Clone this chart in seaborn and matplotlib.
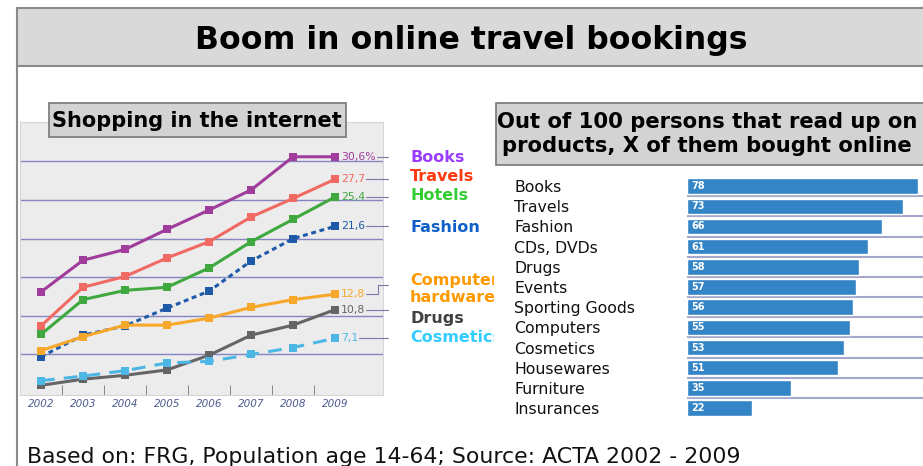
import numpy as np
import pandas as pd
import matplotlib
matplotlib.use("Agg")
import matplotlib.pyplot as plt
import seaborn as sns
from matplotlib.patches import Rectangle
from matplotlib.lines import Line2D
from matplotlib.transforms import Bbox

# Data: online shopping share (%) per year
years = [2002, 2003, 2004, 2005, 2006, 2007, 2008, 2009]
books = [13.1, 17.2, 18.6, 21.2, 23.7, 26.3, 30.6, 30.6]
travels = [8.7, 13.7, 15.1, 17.5, 19.6, 22.8, 25.2, 27.7]
hotels = [7.6, 12.1, 13.3, 13.7, 16.2, 19.6, 22.5, 25.4]
fashion = [4.7, 7.5, 8.7, 11.0, 13.2, 17.1, 20.0, 21.6]
computer = [5.5, 7.3, 8.8, 8.8, 9.7, 11.1, 12.1, 12.8]
drugs = [1.0, 1.8, 2.3, 3.0, 4.9, 7.5, 8.8, 10.8]
cosmetics = [1.6, 2.2, 2.9, 3.9, 4.1, 5.0, 5.9, 7.1]
series_names = ["Books", "Travels", "Hotels", "Fashion", "Computer hardware", "Drugs", "Cosmetics"]
end_labels = ["30,6%", "27,7", "25,4", "21,6", "12,8", "10,8", "7,1"]
legend_labels = ["Books", "Travels", "Hotels", "Fashion", "Computer\nhardware", "Drugs", "Cosmetics"]

# Data: out of 100 persons who read up on products, X bought online
categories = ["Books", "Travels", "Fashion", "CDs, DVDs", "Drugs", "Events", "Sporting Goods",
              "Computers", "Cosmetics", "Housewares", "Furniture", "Insurances"]
bought = [78, 73, 66, 61, 58, 57, 56, 55, 53, 51, 35, 22]

# Styles
line_colors = ["#a03c9c", "#f06a63", "#3fa83f", "#1f5aa8", "#f7a82b", "#656565", "#4cb6e4"]
label_colors = ["#9b3cff", "#ff3a10", "#33cc33", "#1060c8", "#ff9900", "#404040", "#33ccff"]
dash_styles = ["", "", "", (1.6, 1.2), "", "", (4.5, 3)]
legend_y = [157, 176, 196, 228, 289, 318, 338]

W, H = 923, 466
def fx(x):
    return x / W
def fy(y):
    return 1 - y / H

sns.set_style("white")
plt.rcParams["font.family"] = ["DejaVu Sans"]

fig = plt.figure(figsize=(W / 100, H / 100), dpi=100)
fig.patch.set_facecolor("white")

# Header band and frame
fig.patches.append(Rectangle((fx(17), fy(66)), 1.0, 58 / H, transform=fig.transFigure,
                             facecolor="#d9d9d9", edgecolor="#8a8a8a", linewidth=1.5, zorder=0))
fig.add_artist(Line2D([fx(17), fx(17)], [fy(66), 0], color="#8a8a8a", linewidth=1.5))
fig.text(fx(471), fy(40), "Boom in online travel bookings", ha="center", va="center",
         fontsize=22.7, fontweight="bold", color="black")

# ---- Left: line chart ----
ax1 = fig.add_axes([fx(20), fy(395), (383 - 20) / W, (395 - 122) / H])
ax1.set_facecolor("#ececec")
df = pd.DataFrame({
    "year": years * len(series_names),
    "value": books + travels + hotels + fashion + computer + drugs + cosmetics,
    "series": [s for s in series_names for _ in years],
})
sns.lineplot(data=df, x="year", y="value", hue="series", style="series",
             palette=dict(zip(series_names, line_colors)),
             dashes=dict(zip(series_names, dash_styles)),
             markers={s: "s" for s in series_names},
             markersize=6, markeredgewidth=0, linewidth=2.2, legend=False, ax=ax1, zorder=3)
ax1.set_xlim(2001.5, 2010.14)
ax1.set_ylim(-0.25, 35.1)
ax1.set_yticks([5, 10, 15, 20, 25, 30])
ax1.set_yticklabels([])
ax1.grid(axis="y", color="#8585c0", linewidth=1)
ax1.set_xticks(years)
ax1.set_xticklabels([str(y) for y in years], fontstyle="italic", fontsize=7.5, color="#4d5b8f")
ax1.set_xticks([y + 0.5 for y in years[:-1]], minor=True)
ax1.tick_params(axis="x", which="major", length=0, pad=3)
ax1.tick_params(axis="x", which="minor", direction="in", length=7, color="#777777", bottom=True)
ax1.tick_params(axis="y", length=0)
ax1.set_xlabel("")
ax1.set_ylabel("")
for sp in ax1.spines.values():
    sp.set_color("#d6d6d6")

last_vals = [books[-1], travels[-1], hotels[-1], fashion[-1], computer[-1], drugs[-1], cosmetics[-1]]
end_texts = []
for val, lab, col in zip(last_vals, end_labels, line_colors):
    t = ax1.text(years[-1] + 0.14, val, lab, ha="left", va="center", fontsize=7.8,
                 color=col, zorder=4)
    end_texts.append(t)

fig.canvas.draw()
inv = ax1.transData.inverted()
x_right = 2010.26
for i, (t, val) in enumerate(zip(end_texts, last_vals)):
    bb = t.get_window_extent()
    x0 = inv.transform((bb.x1 + 1, 0))[0]
    if i == 4:
        # computer hardware connector bends up to its label
        xs = [x0, 2010.02, 2010.02, x_right]
        ys = [val, val, 14.0, 14.0]
    else:
        xs = [x0, x_right]
        ys = [val, val]
    ax1.plot(xs, ys, color="#7a7aa8", linewidth=0.8, clip_on=False, zorder=4)

# Shopping subtitle box
fig.patches.append(Rectangle((fx(49), fy(137)), (346 - 49) / W, 34 / H, transform=fig.transFigure,
                             facecolor="#d3d3d3", edgecolor="#777777", linewidth=1.2, zorder=2))
fig.text(fx(197), fy(121), "Shopping in the internet", ha="center", va="center",
         fontsize=15, fontweight="bold", color="black", zorder=3)

# Series names beside the line chart (cut off by the right panel)
clip = Bbox.from_extents(0, 0, 494, H)
for lab, yy, col in zip(legend_labels, legend_y, label_colors):
    t = fig.text(fx(410), fy(yy), lab, ha="left", va="center", fontsize=11.5,
                 fontweight="bold", color=col, linespacing=1.15)
    t.set_clip_box(clip)
    t.set_clip_on(True)

# ---- Right: bar chart ----
fig.patches.append(Rectangle((fx(496), fy(165)), 1.0, 62 / H, transform=fig.transFigure,
                             facecolor="#d3d3d3", edgecolor="#777777", linewidth=1.2, zorder=2))
fig.text(fx(707), fy(134), "Out of 100 persons that read up on\nproducts, X of them bought online",
         ha="center", va="center", fontsize=15.2, fontweight="bold", color="black",
         linespacing=1.25, zorder=3)

row = 20.18
ax2 = fig.add_axes([fx(687), fy(176 + 12 * row), (923 - 687) / W, 12 * row / H])
bar_df = pd.DataFrame({"category": categories, "bought": bought})
sns.barplot(data=bar_df, x="bought", y="category", color="#3385c6", saturation=1,
            width=0.77, ax=ax2, zorder=2)
ax2.set_xlim(0, 79.7)
ax2.set_ylim(11.5, -0.5)
ax2.set_xlabel("")
ax2.set_ylabel("")
ax2.set_xticks([])
ax2.set_yticks(range(len(categories)))
ax2.set_yticklabels(categories, ha="left", fontsize=11.3, color="#111111")
ax2.tick_params(axis="y", length=0, pad=124.5)
ax2.set_yticks([i + 0.5 for i in range(len(categories) - 1)], minor=True)
ax2.tick_params(axis="y", which="minor", length=0)
ax2.grid(axis="y", which="minor", color="#a4a8cc", linewidth=1.5)
for sp in ax2.spines.values():
    sp.set_visible(False)
for i, v in enumerate(bought):
    ax2.text(1.6, i, str(v), ha="left", va="center", fontsize=7, fontweight="bold",
             color="white", zorder=3)

# Footer
fig.text(fx(27), fy(457), "Based on: FRG, Population age 14-64; Source: ACTA 2002 - 2009",
         ha="left", va="center", fontsize=15.8, color="#111111")

fig.savefig("out.png", dpi=100)
